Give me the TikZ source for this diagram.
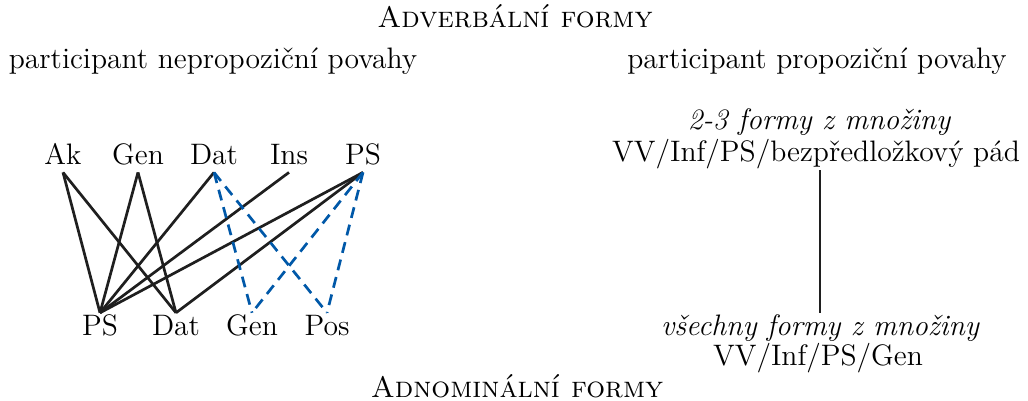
\documentclass[tikz,border=0pt]{standalone}
\usepackage{fontspec}
\definecolor{dashblue}{RGB}{0,88,168}
\begin{document}
\begin{tikzpicture}[x=0.5pt,y=-0.5pt,
  txt/.style={font=\fontsize{14.8}{17}\selectfont, inner sep=0pt, anchor=base},
  word/.style={font=\fontsize{14.8}{17}\selectfont, text height=0.69em, text depth=0pt, inner xsep=0pt, inner ysep=4pt, anchor=base},
  solidlink/.style={line width=1.35pt, black!88},
  dashlink/.style={line width=1.35pt, dashblue, dash pattern=on 5.5pt off 3.5pt}]
\useasboundingbox (0,0) rectangle (1028,401);
% titles
\node[txt] (title) at (515,28) {\textsc{Adverbální formy}};
\node[txt] (btitle) at (517,397) {\textsc{Adnominální formy}};
\node[txt] (leftcap) at (213,69) {participant nepropoziční povahy};
\node[txt] (rightcap) at (817,69) {participant propoziční povahy};
% top row
\node[word] (tAk) at (63,164) {Ak};
\node[word] (tGen) at (138,164) {Gen};
\node[word] (tDat) at (214,164) {Dat};
\node[word] (tIns) at (289,164) {Ins};
\node[word] (tPS) at (363,164) {PS};
% bottom row
\node[word] (bPS) at (100,335) {PS};
\node[word] (bDat) at (176,335) {Dat};
\node[word] (bGen) at (252,335) {Gen};
\node[word] (bPos) at (327,335) {Pos};
% solid links
\draw[solidlink] (tAk.south) -- (bPS.north);
\draw[solidlink] (tAk.south) -- (bDat.north);
\draw[solidlink] (tGen.south) -- (bPS.north);
\draw[solidlink] (tGen.south) -- (bDat.north);
\draw[solidlink] (tDat.south) -- (bPS.north);
\draw[solidlink] (tIns.south) -- (bPS.north);
\draw[solidlink] (tPS.south) -- (bPS.north);
\draw[solidlink] (tPS.south) -- (bDat.north);
% dashed links
\draw[dashlink] (tDat.south) -- (bGen.north);
\draw[dashlink] (tDat.south) -- (bPos.north);
\draw[dashlink] (tPS.south) -- (bGen.north);
\draw[dashlink] (tPS.south) -- (bPos.north);
% right side
\node[txt] (r1i) at (819,130) {\itshape 2-3 formy z množiny};
\node[word] (r1) at (816,162) {VV/Inf/PS/bezpředložkový pád};
\node[word] (r2i) at (820,335) {\itshape všechny formy z množiny};
\node[txt] (r2) at (818,365) {VV/Inf/PS/Gen};
\draw[solidlink] (r2i.north) -- (r2i.north |- r1.south);
\end{tikzpicture}
\end{document}
